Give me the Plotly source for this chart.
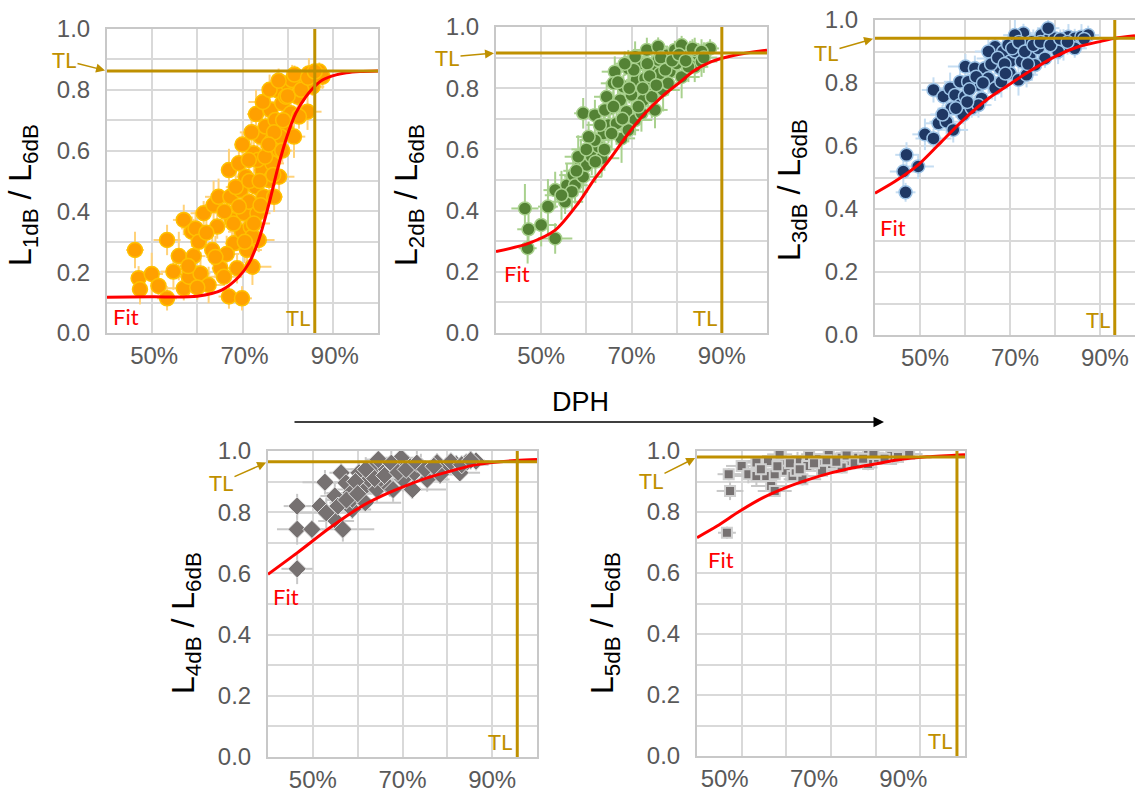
import plotly.graph_objects as go

# ---------------- measured ratios (DPH in %, ratio L_xdB / L_6dB) ----------------
p1_x = [46.2, 47.0, 47.3, 49.9, 51.4, 53.3, 53.3, 54.7, 55.9, 57.0,
        57.0, 58.1, 58.8, 59.2, 59.6, 60.3, 60.7, 61.4, 62.5, 63.3,
        63.6, 64.4, 64.7, 65.1, 65.9, 67.0, 67.0, 67.3, 67.7, 68.1,
        68.8, 69.2, 69.6, 69.9, 69.9, 70.3, 70.7, 71.0, 71.4, 71.8,
        72.2, 72.5, 72.9, 73.3, 73.6, 74.0, 74.4, 74.7, 75.1, 75.5,
        75.9, 76.2, 76.6, 77.3, 77.7, 78.1, 78.8, 79.6, 79.9, 80.7,
        81.4, 82.2, 82.9, 84.0, 84.7, 85.9, 87.0, 84.4, 81.0, 73.3,
        76.6, 78.1, 77.0, 71.4, 72.2, 69.2, 79.6, 82.5, 85.5, 87.7,
        78.4, 66.0, 68.5, 70.0, 71.5, 72.0, 73.0, 74.5, 75.0, 76.0,
        77.0, 78.0, 79.0, 80.0, 81.5, 83.0, 84.5, 86.0, 70.5, 68.0,
        66.5, 72.5, 74.0, 75.8, 76.8, 78.8, 73.8, 62.0, 64.0, 58.0, 60.0]
p1_y = [0.273, 0.180, 0.144, 0.194, 0.155, 0.306, 0.114, 0.202, 0.253, 0.372,
        0.147, 0.185, 0.333, 0.253, 0.344, 0.300, 0.196, 0.394, 0.158, 0.273,
        0.421, 0.350, 0.448, 0.213, 0.185, 0.120, 0.536, 0.448, 0.372, 0.295,
        0.213, 0.558, 0.470, 0.114, 0.333, 0.394, 0.514, 0.273, 0.432, 0.350,
        0.218, 0.591, 0.481, 0.394, 0.306, 0.646, 0.536, 0.448, 0.679, 0.580,
        0.503, 0.734, 0.635, 0.701, 0.799, 0.602, 0.756, 0.668, 0.821, 0.723,
        0.646, 0.777, 0.827, 0.821, 0.854, 0.843, 0.860, 0.728, 0.832, 0.569,
        0.558, 0.514, 0.448, 0.569, 0.317, 0.416, 0.777, 0.712, 0.810, 0.843,
        0.646, 0.400, 0.480, 0.620, 0.500, 0.660, 0.720, 0.760, 0.580, 0.800,
        0.660, 0.830, 0.700, 0.780, 0.850, 0.800, 0.840, 0.860, 0.300, 0.360,
        0.260, 0.360, 0.420, 0.620, 0.520, 0.600, 0.500, 0.330, 0.250, 0.220, 0.150]
p1_ex = [2.0, 1.5, 1.2, 2.5, 1.8, 3.0, 2.2, 2.8, 1.6, 2.4,
         3.5, 2.0, 1.4, 2.6, 3.2, 1.8, 2.2, 2.9, 3.6, 1.5,
         2.1, 2.7, 3.0, 1.9, 4.0, 2.3, 1.6, 2.5, 3.4, 2.0,
         3.8, 1.7, 2.6, 2.2, 3.1, 1.4, 2.4, 3.3, 2.0, 1.8,
         4.2, 2.6, 1.5, 2.9, 3.5, 2.1, 1.7, 3.2, 2.4, 1.9,
         2.8, 3.6, 1.6, 2.3, 3.0, 2.0, 1.5, 2.7, 3.3, 1.8,
         2.5, 2.1, 1.6, 2.9, 2.2, 1.8, 2.4, 3.1, 2.0, 1.7,
         2.6, 3.4, 1.9, 2.3, 2.8, 1.5, 2.2, 3.0, 2.6, 1.9,
         2.4, 3.0, 2.2, 1.8, 3.4, 2.6, 2.0, 3.2, 2.4, 1.7,
         2.9, 2.1, 3.5, 2.3, 1.9, 2.7, 2.2, 1.6, 3.1, 2.5,
         2.8, 3.6, 2.0, 2.4, 3.0, 2.2, 2.7, 3.3, 2.1, 2.6, 1.9]
p1_ey = [0.06, 0.04, 0.05, 0.07, 0.03, 0.05, 0.04, 0.06, 0.08, 0.05,
         0.04, 0.07, 0.05, 0.03, 0.06, 0.05, 0.07, 0.04, 0.06, 0.05,
         0.08, 0.04, 0.06, 0.05, 0.03, 0.04, 0.07, 0.05, 0.06, 0.04,
         0.05, 0.08, 0.06, 0.04, 0.05, 0.07, 0.03, 0.06, 0.05, 0.04,
         0.06, 0.07, 0.05, 0.08, 0.04, 0.06, 0.05, 0.07, 0.04, 0.06,
         0.05, 0.03, 0.07, 0.05, 0.06, 0.04, 0.05, 0.08, 0.04, 0.06,
         0.07, 0.05, 0.04, 0.03, 0.05, 0.04, 0.03, 0.06, 0.05, 0.07,
         0.04, 0.06, 0.05, 0.07, 0.04, 0.06, 0.05, 0.04, 0.03, 0.04,
         0.06, 0.05, 0.07, 0.04, 0.06, 0.05, 0.08, 0.04, 0.06, 0.05,
         0.07, 0.04, 0.06, 0.05, 0.03, 0.06, 0.04, 0.03, 0.07, 0.05,
         0.06, 0.04, 0.07, 0.05, 0.06, 0.04, 0.05, 0.06, 0.07, 0.05, 0.04]

p2_x = [46.4, 47.2, 47.0, 50.0, 51.5, 53.1, 53.1, 55.3, 55.7, 57.1,
        57.5, 58.8, 59.3, 59.3, 60.1, 61.2, 61.9, 62.7, 63.4, 63.8,
        64.5, 64.9, 65.2, 66.3, 66.7, 67.5, 67.8, 68.2, 68.9, 69.3,
        70.0, 70.8, 71.1, 71.9, 72.6, 73.0, 73.7, 74.5, 75.2, 75.9,
        76.3, 77.0, 77.8, 78.5, 79.6, 80.0, 81.1, 81.8, 83.0, 84.0,
        84.8, 86.3, 87.4, 73.4, 70.8, 61.9, 66.0, 75.9, 81.1, 58.2,
        56.8, 65.6, 69.3, 72.2, 78.1, 82.6, 85.5, 74.5, 64.1, 60.5,
        84.0, 63.0, 64.0, 66.0, 67.0, 68.0, 69.5, 70.5, 71.5, 72.5,
        73.5, 74.0, 75.5, 76.5, 77.5, 79.0, 80.5, 82.0, 83.5, 85.5,
        86.0, 62.0, 60.0, 57.8, 54.5, 68.5]
p2_y = [0.407, 0.339, 0.277, 0.353, 0.413, 0.309, 0.467, 0.429, 0.483, 0.516,
        0.483, 0.554, 0.718, 0.511, 0.549, 0.576, 0.712, 0.609, 0.571, 0.652,
        0.772, 0.680, 0.734, 0.854, 0.685, 0.761, 0.636, 0.805, 0.723, 0.865,
        0.778, 0.696, 0.827, 0.881, 0.761, 0.832, 0.800, 0.870, 0.729, 0.892,
        0.848, 0.794, 0.908, 0.854, 0.925, 0.881, 0.837, 0.908, 0.925, 0.870,
        0.908, 0.919, 0.930, 0.925, 0.903, 0.630, 0.816, 0.936, 0.941, 0.576,
        0.462, 0.652, 0.663, 0.718, 0.816, 0.870, 0.887, 0.772, 0.729, 0.641,
        0.925, 0.680, 0.600, 0.740, 0.820, 0.700, 0.800, 0.860, 0.740, 0.800,
        0.880, 0.840, 0.810, 0.900, 0.860, 0.890, 0.910, 0.890, 0.930, 0.920,
        0.900, 0.560, 0.600, 0.530, 0.450, 0.880]
p2_ex = [3.0, 2.5, 2.0, 3.5, 2.2, 3.8, 2.6, 4.0, 2.4, 3.1,
         2.8, 3.5, 2.0, 4.2, 2.7, 3.3, 2.5, 3.0, 3.9, 2.2,
         2.8, 3.4, 2.1, 2.9, 3.6, 2.4, 3.0, 2.6, 3.3, 2.0,
         2.7, 3.8, 2.3, 2.9, 3.2, 2.5, 3.5, 2.2, 2.8, 3.1,
         2.4, 3.7, 2.6, 2.0, 2.9, 3.3, 4.0, 2.5, 2.2, 3.0,
         2.7, 2.3, 2.0, 3.1, 2.6, 3.4, 2.8, 2.2, 2.5, 3.0,
         3.6, 2.9, 2.4, 3.2, 2.7, 2.1, 3.5, 2.6, 3.3, 2.8,
         2.4, 3.0, 2.5, 3.4, 2.2, 2.9, 3.6, 2.3, 2.7, 3.1,
         2.5, 3.8, 2.6, 2.0, 3.2, 2.8, 2.4, 3.5, 2.1, 2.7,
         3.0, 2.6, 3.3, 2.9, 3.7, 2.2]
p2_ey = [0.08, 0.06, 0.05, 0.07, 0.09, 0.05, 0.06, 0.04, 0.07, 0.05,
         0.06, 0.08, 0.05, 0.07, 0.04, 0.06, 0.05, 0.07, 0.06, 0.08,
         0.05, 0.06, 0.04, 0.05, 0.07, 0.06, 0.08, 0.04, 0.05, 0.06,
         0.07, 0.05, 0.04, 0.03, 0.06, 0.05, 0.07, 0.04, 0.06, 0.03,
         0.05, 0.07, 0.03, 0.06, 0.03, 0.05, 0.07, 0.04, 0.03, 0.05,
         0.04, 0.03, 0.03, 0.04, 0.05, 0.06, 0.05, 0.03, 0.03, 0.07,
         0.06, 0.05, 0.04, 0.06, 0.04, 0.05, 0.05, 0.07, 0.06, 0.05,
         0.04, 0.06, 0.07, 0.05, 0.04, 0.08, 0.05, 0.04, 0.06, 0.07,
         0.04, 0.05, 0.06, 0.03, 0.05, 0.04, 0.05, 0.06, 0.03, 0.04,
         0.05, 0.07, 0.06, 0.05, 0.08, 0.04]

p3_x = [47.0, 46.3, 46.8, 49.6, 51.1, 53.0, 53.0, 54.1, 55.2, 55.9,
        56.7, 57.4, 57.8, 58.9, 58.9, 59.6, 60.0, 60.1, 61.5, 62.2,
        63.0, 63.7, 64.4, 65.2, 66.3, 66.7, 66.7, 67.8, 68.5, 69.6,
        70.0, 70.0, 71.1, 72.6, 73.0, 72.6, 74.4, 74.8, 76.3, 77.0,
        78.5, 80.0, 81.9, 83.0, 84.4, 85.9, 87.4, 71.9, 73.7, 77.8,
        63.0, 68.1, 75.6, 80.7, 84.4, 71.1, 65.2, 57.0, 78.5, 60.7,
        58.0, 61.0, 62.5, 64.0, 65.8, 67.3, 68.8, 70.5, 72.0, 73.3,
        75.2, 76.8, 79.0, 81.2, 82.8, 86.5, 69.0, 74.0, 55.0, 60.5]
p3_y = [0.572, 0.519, 0.453, 0.535, 0.637, 0.624, 0.778, 0.672, 0.757, 0.677,
        0.783, 0.651, 0.762, 0.804, 0.730, 0.699, 0.757, 0.852, 0.720, 0.847,
        0.794, 0.751, 0.847, 0.815, 0.878, 0.783, 0.915, 0.847, 0.900, 0.921,
        0.868, 0.831, 0.900, 0.868, 0.958, 0.921, 0.884, 0.931, 0.910, 0.952,
        0.937, 0.942, 0.921, 0.947, 0.942, 0.947, 0.952, 0.810, 0.826, 0.878,
        0.730, 0.804, 0.857, 0.900, 0.910, 0.952, 0.900, 0.720, 0.974, 0.804,
        0.720, 0.780, 0.820, 0.800, 0.860, 0.880, 0.860, 0.910, 0.930, 0.900,
        0.920, 0.930, 0.920, 0.940, 0.930, 0.940, 0.830, 0.860, 0.700, 0.740]
p3_ex = [2.5, 3.0, 2.2, 3.5, 2.8, 4.0, 2.6, 3.2, 2.4, 3.8,
         2.9, 3.3, 2.1, 3.6, 2.7, 3.0, 2.5, 3.9, 2.3, 2.8,
         3.4, 2.6, 3.1, 2.2, 3.7, 2.9, 2.4, 3.2, 2.7, 3.5,
         2.0, 3.0, 2.6, 3.3, 2.8, 2.4, 3.6, 2.9, 3.1, 2.5,
         2.7, 3.4, 4.0, 2.6, 3.0, 2.3, 2.8, 3.2, 2.5, 3.5,
         2.9, 3.1, 2.4, 3.3, 2.7, 2.6, 3.0, 2.8, 2.5, 3.4,
         3.2, 2.6, 3.8, 2.4, 3.0, 2.7, 3.5, 2.2, 2.9, 3.3,
         2.5, 3.1, 3.9, 2.8, 2.4, 3.6, 2.6, 3.0, 2.7, 3.2]
p3_ey = [0.04, 0.05, 0.03, 0.04, 0.05, 0.03, 0.04, 0.05, 0.03, 0.04,
         0.05, 0.04, 0.03, 0.05, 0.04, 0.03, 0.05, 0.04, 0.03, 0.04,
         0.05, 0.03, 0.04, 0.05, 0.03, 0.04, 0.03, 0.05, 0.04, 0.03,
         0.04, 0.05, 0.03, 0.04, 0.03, 0.04, 0.05, 0.03, 0.04, 0.03,
         0.04, 0.03, 0.05, 0.04, 0.03, 0.04, 0.03, 0.05, 0.04, 0.03,
         0.04, 0.05, 0.03, 0.04, 0.03, 0.05, 0.04, 0.03, 0.04, 0.05,
         0.03, 0.04, 0.05, 0.03, 0.04, 0.03, 0.05, 0.04, 0.03, 0.04,
         0.05, 0.03, 0.04, 0.03, 0.04, 0.03, 0.05, 0.04, 0.03, 0.04]

p4_x = [46.5, 46.5, 49.8, 46.5, 52.7, 51.6, 53.0, 54.9, 55.2, 56.7,
        56.3, 57.4, 58.5, 58.8, 60.3, 61.0, 62.5, 63.2, 64.3, 65.4,
        66.4, 67.2, 68.3, 70.1, 71.2, 72.6, 74.1, 76.2, 77.7, 79.9,
        82.0, 84.2, 86.4, 55.6, 64.6, 69.7, 72.2, 75.5, 78.4, 82.8,
        58.8, 61.7, 67.9, 59.5, 61.8, 63.8, 66.0, 67.5, 69.0, 70.8,
        73.2, 75.0, 77.0, 80.8, 83.2, 85.2, 57.5, 60.0]
p4_y = [0.820, 0.744, 0.744, 0.615, 0.898, 0.820, 0.798, 0.853, 0.771, 0.744,
        0.929, 0.896, 0.863, 0.809, 0.929, 0.874, 0.907, 0.940, 0.874, 0.907,
        0.940, 0.880, 0.945, 0.907, 0.956, 0.929, 0.951, 0.940, 0.962, 0.951,
        0.956, 0.962, 0.967, 0.820, 0.972, 0.978, 0.874, 0.907, 0.923, 0.929,
        0.842, 0.831, 0.874, 0.900, 0.940, 0.910, 0.920, 0.960, 0.930, 0.940,
        0.960, 0.940, 0.950, 0.965, 0.955, 0.970, 0.840, 0.860]
p4_ex = [3.0, 4.5, 2.5, 3.5, 5.0, 2.8, 6.0, 3.2, 4.0, 7.0,
         2.6, 3.8, 5.5, 4.2, 3.0, 6.5, 2.9, 4.8, 3.6, 5.2,
         2.7, 6.8, 3.4, 4.4, 3.1, 5.8, 2.5, 4.6, 3.3, 5.0,
         3.8, 4.0, 3.0, 3.6, 2.8, 4.2, 7.5, 5.0, 6.0, 4.5,
         3.2, 8.0, 6.5, 3.5, 4.8, 2.9, 5.6, 3.3, 6.2, 4.0,
         3.0, 5.2, 4.4, 3.6, 6.0, 3.1, 4.6, 5.4]
p4_ey = [0.04, 0.05, 0.03, 0.05, 0.04, 0.03, 0.05, 0.04, 0.03, 0.04,
         0.03, 0.04, 0.05, 0.03, 0.04, 0.03, 0.04, 0.03, 0.04, 0.03,
         0.04, 0.03, 0.03, 0.04, 0.03, 0.03, 0.04, 0.03, 0.03, 0.03,
         0.03, 0.02, 0.03, 0.04, 0.03, 0.03, 0.03, 0.04, 0.03, 0.03,
         0.04, 0.03, 0.04, 0.03, 0.04, 0.03, 0.03, 0.04, 0.03, 0.03,
         0.04, 0.03, 0.03, 0.02, 0.03, 0.03, 0.04, 0.03]

p5_x = [47.1, 47.4, 46.7, 50.0, 51.5, 53.3, 53.3, 55.5, 55.9, 57.4,
        56.6, 57.4, 59.6, 59.9, 61.4, 62.5, 63.6, 64.7, 65.1, 67.3,
        68.4, 69.5, 70.2, 72.4, 74.3, 76.1, 78.3, 80.5, 83.8, 86.0,
        58.5, 72.4, 78.3, 83.5, 68.0, 62.1, 54.3, 58.0, 60.8, 63.0,
        66.2, 69.0, 71.2, 73.5, 75.3, 77.2, 79.5, 82.0, 85.0, 87.5]
p5_y = [0.924, 0.869, 0.732, 0.951, 0.924, 0.962, 0.918, 0.918, 0.967, 0.924,
        0.885, 0.869, 0.962, 0.935, 0.918, 0.967, 0.907, 0.951, 0.984, 0.973,
        0.957, 0.989, 0.957, 0.978, 0.967, 0.978, 0.989, 0.978, 0.989, 0.989,
        0.989, 0.946, 0.957, 0.984, 0.935, 0.935, 0.940, 0.950, 0.960, 0.940,
        0.960, 0.970, 0.965, 0.985, 0.960, 0.975, 0.990, 0.975, 0.980, 0.990]
p5_ex = [2.5, 3.0, 2.0, 3.5, 4.0, 2.8, 5.0, 3.2, 6.0, 2.6,
         4.5, 3.8, 5.5, 2.9, 6.5, 3.4, 4.2, 7.0, 3.0, 5.8,
         4.4, 6.2, 3.6, 5.0, 7.5, 4.8, 6.0, 5.2, 4.0, 3.5,
         2.8, 8.0, 6.5, 4.5, 3.0, 5.5, 3.8, 4.6, 6.8, 3.2,
         5.4, 4.0, 7.2, 3.6, 5.0, 4.2, 6.0, 3.4, 4.8, 3.0]
p5_ey = [0.02, 0.03, 0.02, 0.02, 0.03, 0.02, 0.03, 0.02, 0.02, 0.03,
         0.02, 0.02, 0.03, 0.02, 0.02, 0.03, 0.02, 0.02, 0.02, 0.02,
         0.03, 0.02, 0.02, 0.02, 0.03, 0.02, 0.02, 0.02, 0.02, 0.02,
         0.03, 0.02, 0.02, 0.02, 0.02, 0.02, 0.03, 0.02, 0.02, 0.03,
         0.02, 0.02, 0.03, 0.02, 0.02, 0.02, 0.03, 0.02, 0.02, 0.02]

# fitted curves
fit1_x = [40, 50, 60, 65.5, 69.2, 71.4, 73.6, 75.9, 77.7, 79.6, 81.8, 84, 85.9, 87.7, 90.7, 93, 96, 100]
fit1_y = [0.118, 0.119, 0.121, 0.142, 0.185, 0.229, 0.306, 0.427, 0.536, 0.635, 0.723, 0.777, 0.810, 0.832, 0.849, 0.856, 0.860, 0.862]
fit2_x = [40, 47.2, 53.1, 58.2, 61.9, 65.6, 69.3, 73, 76.7, 80.4, 84, 87.7, 91.4, 97.3, 100]
fit2_y = [0.266, 0.293, 0.336, 0.424, 0.505, 0.576, 0.652, 0.718, 0.772, 0.816, 0.859, 0.887, 0.903, 0.919, 0.924]
fit3_x = [40, 44.4, 49.6, 54.8, 60, 65.2, 69.6, 74.8, 80, 85.2, 90.4, 93.3, 97.8]
fit3_y = [0.450, 0.487, 0.540, 0.614, 0.688, 0.751, 0.793, 0.841, 0.884, 0.915, 0.933, 0.942, 0.950]
fit4_x = [40, 46.5, 53.8, 60.3, 65.4, 69.7, 75.5, 79.9, 85.7, 90, 95.4, 100]
fit4_y = [0.597, 0.667, 0.749, 0.814, 0.853, 0.880, 0.912, 0.931, 0.953, 0.962, 0.969, 0.972]
fit5_x = [40, 44.5, 49.6, 54.8, 59.9, 65.1, 70.2, 75.4, 80.5, 85.7, 91.5, 100]
fit5_y = [0.716, 0.754, 0.803, 0.847, 0.880, 0.907, 0.929, 0.946, 0.959, 0.973, 0.981, 0.988]

# threshold levels (TL) per panel
tl_y = [0.862, 0.915, 0.942, 0.965, 0.980]
tl_x = [86.0, 90.0, 93.3, 95.6, 98.2]

levels = ["1", "2", "3", "4", "5"]

W, H = 1135, 790
GOLD = "#BF9000"
RED = "#FF0000"
GRID = "#D9D9D9"
TICK_GRAY = "#595959"
NOTE_FONT = "Lato"

# panel frames in pixels: (left, right, top, bottom), x range end
frames = [
    (107, 378, 29, 333, 100),
    (496, 767, 27, 333, 100),
    (875, 1135, 20, 335, 97.8),
    (268, 537, 451, 757, 100),
    (697, 965, 451, 756, 100),
]

styles = [
    dict(symbol="circle", size=15, color="#FFA000", line=dict(color="#FFC000", width=1.5), err="#FFD27A"),
    dict(symbol="circle", size=13, color="#548235", line=dict(color="#A9D18E", width=1.5), err="#A9D18E"),
    dict(symbol="circle", size=13, color="#1F3864", line=dict(color="#9DC3E6", width=1.5), err="#C5DDF2"),
    dict(symbol="diamond", size=14, color="#767171", line=dict(color="#E0E0E0", width=1), err="#C8C8C8"),
    dict(symbol="square", size=10, color="#767171", line=dict(color="#D0D0D0", width=2), err="#C8C8C8"),
]

series = [
    (p1_x, p1_y, p1_ex, p1_ey, fit1_x, fit1_y),
    (p2_x, p2_y, p2_ex, p2_ey, fit2_x, fit2_y),
    (p3_x, p3_y, p3_ex, p3_ey, fit3_x, fit3_y),
    (p4_x, p4_y, p4_ex, p4_ey, fit4_x, fit4_y),
    (p5_x, p5_y, p5_ex, p5_ey, fit5_x, fit5_y),
]

# TL arrow text offsets (px), Fit label positions (data), y-title centres (px), x tick-label shift
tl_offsets = [(-43, -11), (-49, 4), (-49, 14), (-47, 21), (-46, 23)]
fit_pos = [(44.2, 0.053), (44.6, 0.193), (44.0, 0.340), (44.0, 0.523), (45.4, 0.643)]
title_pos = [(22, 195), (408, 195), (792, 190), (185, 623), (604, 623)]
label_shift = [2, 0, 5, 0, -17]

fig = go.Figure()
layout = dict(
    width=W, height=H, autosize=False,
    margin=dict(l=0, r=0, t=0, b=0, pad=0),
    paper_bgcolor="white", plot_bgcolor="white",
    showlegend=False,
    font=dict(family="Liberation Sans", color=TICK_GRAY),
)
shapes = []
annotations = []

for i, (frame, st, data) in enumerate(zip(frames, styles, series)):
    left, right, top, bottom, xmax = frame
    n = "" if i == 0 else str(i + 1)
    xa, ya = "x" + n, "y" + n
    xs, ys, ex, ey, fx, fy = data

    layout["xaxis" + n] = dict(
        domain=[left / W, right / W], anchor=ya, range=[40, xmax],
        automargin=False,
        tickmode="linear", tick0=50, dtick=20, ticksuffix="%",
        minor=dict(tickmode="linear", tick0=40, dtick=10, showgrid=True,
                   gridcolor=GRID, gridwidth=2, ticks=""),
        showgrid=True, gridcolor=GRID, gridwidth=2,
        showline=True, linecolor="#C8C8C8", linewidth=2, mirror=True,
        zeroline=False, ticks="", ticklabelstandoff=0,
        ticklabelshift=label_shift[i],
        tickfont=dict(size=24, color=TICK_GRAY, family="Liberation Sans"),
    )
    layout["yaxis" + n] = dict(
        domain=[1 - bottom / H, 1 - top / H], anchor=xa, range=[0, 1.0],
        automargin=False,
        tickmode="linear", tick0=0, dtick=0.2, tickformat=".1f",
        minor=dict(tickmode="linear", tick0=0, dtick=0.1, showgrid=True,
                   gridcolor=GRID, gridwidth=2, ticks=""),
        showgrid=True, gridcolor=GRID, gridwidth=2,
        showline=True, linecolor="#C8C8C8", linewidth=2,
        mirror=(i != 2),
        zeroline=False, ticks="", ticklabelstandoff=10,
        tickfont=dict(size=24, color=TICK_GRAY, family="Liberation Sans"),
    )

    fig.add_trace(go.Scatter(
        x=xs, y=ys, mode="markers", xaxis=xa, yaxis=ya,
        marker=dict(symbol=st["symbol"], size=st["size"], color=st["color"], line=st["line"]),
        error_x=dict(type="data", array=ex, color=st["err"], thickness=2, width=0),
        error_y=dict(type="data", array=ey, color=st["err"], thickness=2, width=0),
        hoverinfo="skip",
    ))
    fig.add_trace(go.Scatter(
        x=fx, y=fy, mode="lines", xaxis=xa, yaxis=ya,
        line=dict(color=RED, width=3, shape="spline", smoothing=0.8),
        hoverinfo="skip",
    ))

    # threshold lines
    shapes.append(dict(type="line", xref=xa + " domain", yref=ya, x0=0, x1=1,
                       y0=tl_y[i], y1=tl_y[i], line=dict(color=GOLD, width=3), layer="above"))
    shapes.append(dict(type="line", xref=xa, yref=ya + " domain", x0=tl_x[i], x1=tl_x[i],
                       y0=0, y1=1, line=dict(color=GOLD, width=3), layer="above"))

    axx, ayy = tl_offsets[i]
    annotations.append(dict(
        x=40, y=tl_y[i], xref=xa, yref=ya, text="TL", showarrow=True,
        ax=axx, ay=ayy, axref="pixel", ayref="pixel",
        arrowhead=2, arrowsize=1.2, arrowwidth=1.5, arrowcolor=GOLD, standoff=2,
        font=dict(family=NOTE_FONT, size=22, color=GOLD),
    ))
    annotations.append(dict(
        x=tl_x[i], y=0, xref=xa, yref=ya, text="TL", showarrow=False,
        xanchor="right", yanchor="bottom", xshift=-3, yshift=0,
        font=dict(family=NOTE_FONT, size=22, color=GOLD),
    ))
    fxp, fyp = fit_pos[i]
    annotations.append(dict(
        x=fxp, y=fyp, xref=xa, yref=ya, text="Fit", showarrow=False,
        font=dict(family=NOTE_FONT, size=22, color=RED),
    ))
    tx, ty = title_pos[i]
    annotations.append(dict(
        x=tx / W, y=1 - ty / H, xref="paper", yref="paper", textangle=-90,
        text="L<sub>" + levels[i] + "dB</sub> / L<sub>6dB</sub>", showarrow=False,
        xanchor="center", yanchor="middle",
        font=dict(family="Liberation Sans", size=32, color="black"),
    ))

# DPH direction arrow
annotations.append(dict(
    x=580 / W, y=1 - 402 / H, xref="paper", yref="paper", text="DPH", showarrow=False,
    font=dict(family="Liberation Sans", size=27, color="black"),
))
annotations.append(dict(
    x=884 / W, y=1 - 422 / H, xref="paper", yref="paper", text="", showarrow=True,
    ax=-591, ay=0, axref="pixel", ayref="pixel",
    arrowhead=2, arrowsize=1.4, arrowwidth=1.5, arrowcolor="black",
))

layout["shapes"] = shapes
layout["annotations"] = annotations
fig.update_layout(**layout)

# drop plotly's empty placeholder <text> nodes (unused axis titles etc.)
cleanup_js = """
function dropEmptyText() {
    document.querySelectorAll('svg text').forEach(function (t) {
        if (!t.textContent.trim()) { t.remove(); }
    });
}
dropEmptyText();
setTimeout(dropEmptyText, 300);
"""
fig.write_html("out.html", post_script=cleanup_js)
